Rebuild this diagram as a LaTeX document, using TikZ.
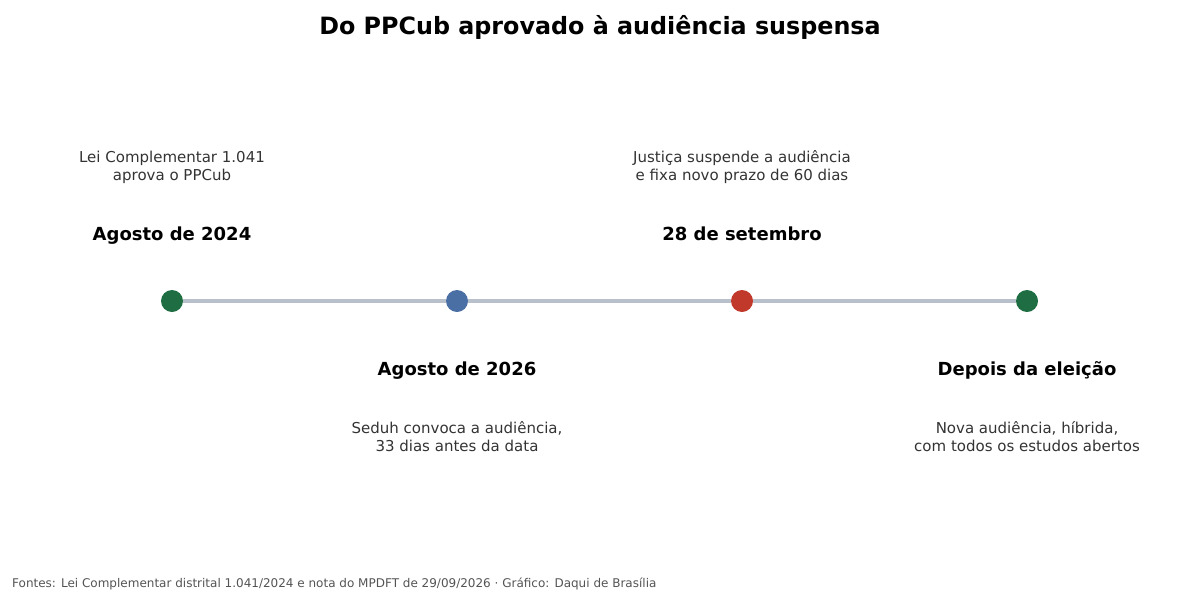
\documentclass[tikz,border=0pt]{standalone}
\usepackage{fontspec}
\setmainfont{DejaVu Sans}
\usetikzlibrary{positioning}
\definecolor{verde}{HTML}{1F6E43}
\definecolor{azul}{HTML}{4A6FA5}
\definecolor{vermelho}{HTML}{C0392B}
\definecolor{linha}{HTML}{B8C0CC}
\definecolor{texto}{HTML}{333333}
\tikzset{
  marco/.style={circle,minimum size=22pt,inner sep=0pt},
  data/.style={anchor=base,font=\fontsize{18}{21}\selectfont\bfseries},
  desc/.style={font=\fontsize{15}{18}\selectfont,text=texto,align=center},
}
\begin{document}
\begin{tikzpicture}[x=1pt,y=1pt]
        \useasboundingbox (0,0) rectangle (1200,-600);
        % titulo
        \node[font=\fontsize{23.8}{28}\selectfont\bfseries] (titulo) at (600,-27) {Do PPCub aprovado à audiência suspensa};

        % marcos na linha do tempo
        \node[marco,fill=verde] (m1) at (172,-301) {};
        \node[marco,fill=azul] (m2) at (457,-301) {};
        \node[marco,fill=vermelho] (m3) at (742,-301) {};
        \node[marco,fill=verde] (m4) at (1027,-301) {};
        \draw[linha,line width=4pt] (m1) -- (m2) -- (m3) -- (m4);

        % acima da linha
        \node[data] (d1) at (172,-240.5) {Agosto de 2024};
        \node[desc] (t1) at (172,-167) {Lei Complementar 1.041\\aprova o PPCub};
        \node[data] (d3) at (742,-240.5) {28 de setembro};
        \node[desc] (t3) at (742,-167) {Justiça suspende a audiência\\e fixa novo prazo de 60 dias};

        % abaixo da linha
        \node[data] (d2) at (457,-375.5) {Agosto de 2026};
        \node[desc] (t2) at (457,-437) {Seduh convoca a audiência,\\33 dias antes da data};
        \node[data] (d4) at (1027,-375.5) {Depois da eleição};
        \node[desc] (t4) at (1027,-437) {Nova audiência, híbrida,\\com todos os estudos abertos};

        % fonte
        \node[anchor=west,inner sep=0pt,font=\fontsize{12}{14}\selectfont,text=black!67] (fonte) at (12,-584) {Fontes: Lei Complementar distrital 1.041/2024 e nota do MPDFT de 29/09/2026 · Gráfico: Daqui de Brasília};
\end{tikzpicture}
\end{document}
